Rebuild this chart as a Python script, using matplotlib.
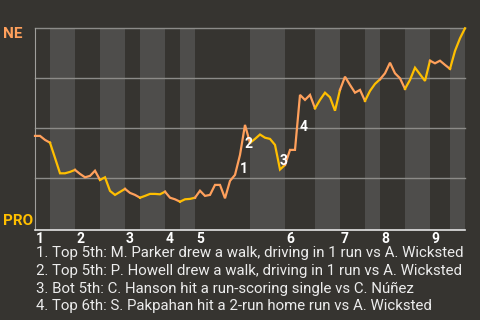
import matplotlib
matplotlib.use("Agg")
import matplotlib.pyplot as plt
from matplotlib.transforms import blended_transform_factory

plt.rcParams['font.family'] = ['Roboto', 'DejaVu Sans']

# ----------------------------------
# data: NE win probability (%) after each plate appearance
# ----------------------------------
win_prob = [
    46.2, 46.2, 44.2, 42.8, 35.2, 27.5, 27.5, 28.2, 29.2, 27.2,
    25.5, 26.2, 28.8, 24.2, 25.5, 18.7, 16.7, 18.2, 19.7, 17.7,
    16.7, 15.3, 16.2, 17.2, 17.2, 17.0, 18.3, 15.3, 14.5, 13.3,
    14.5, 14.7, 15.3, 18.8, 16.2, 16.7, 21.7, 21.7, 15.0, 23.7,
    26.7, 36.7, 51.7, 42.7, 44.7, 46.9, 45.3, 44.7, 41.7, 29.4,
    31.7, 39.2, 39.2, 66.7, 64.2, 66.7, 60.0, 64.2, 67.8, 65.5,
    58.8, 69.2, 75.8, 71.7, 67.8, 69.2, 63.7, 68.7, 72.2, 74.5,
    77.5, 82.8, 77.5, 75.0, 69.7, 74.2, 80.3, 77.0, 73.7, 83.8,
    82.5, 83.8, 81.7, 79.7, 88.7, 95.0, 100.0,
]

# index where each half inning starts (top 1, bot 1, top 2, ...), plus end
half_starts = [0, 3, 8, 13, 18, 21, 26, 29, 32, 43, 50, 56, 61, 66, 69, 74, 79, 83, 86]
innings = ["1", "2", "3", "4", "5", "6", "7", "8", "9"]

# key plays: index of the point after the play
key_plays = [41, 42, 49, 53]
key_texts = [
    "1. Top 5th: M. Parker drew a walk, driving in 1 run vs A. Wicksted",
    "2. Top 5th: P. Howell drew a walk, driving in 1 run vs A. Wicksted",
    "3. Bot 5th: C. Hanson hit a run-scoring single vs C. Núñez",
    "4. Top 6th: S. Pakpahan hit a 2-run home run vs A. Wicksted",
]

away_team = "NE"
home_team = "PRO"

# ----------------------------------
# styling
# ----------------------------------
bg = "#363430"
band = "#4e4d4b"
away_col = "#ffa05c"
home_col = "#ffbf00"
grid_col = "#8c8b88"
text_col = "#ececec"

fig = plt.figure(figsize=(4.8, 3.2), dpi=100, facecolor=bg)
ax = fig.add_axes([35 / 480, (320 - 230) / 320, 430 / 480, 201.7 / 320])
ax.set_facecolor(bg)

n = len(win_prob) - 1
ax.set_xlim(0, n)
ax.set_ylim(-0.85, 100)

# bottom-half shading
for i in range(1, len(half_starts) - 1, 2):
    ax.axvspan(half_starts[i], half_starts[i + 1], color=band, lw=0, zorder=0)

for g in [25, 50, 75, 100]:
    ax.axhline(g, color=grid_col, lw=1, zorder=1, clip_on=False)

# line, coloured by team at bat
xs = list(range(len(win_prob)))
for i in range(len(half_starts) - 1):
    a, b = half_starts[i], half_starts[i + 1]
    col = away_col if i % 2 == 0 else home_col
    ax.plot(xs[a:b + 1], win_prob[a:b + 1], color=col, lw=1.6,
            solid_joinstyle="miter", zorder=3, clip_on=False)

# key play numbers
for k, idx in enumerate(key_plays):
    mx = idx - 0.5
    my = (win_prob[idx - 1] + win_prob[idx]) / 2
    ax.annotate(str(k + 1), xy=(mx, my), xytext=(4.3, -3),
                textcoords="offset points", ha="center", va="center",
                color="white", fontsize=10, fontweight="bold", zorder=4)

# axes
for s in ["top", "right"]:
    ax.spines[s].set_visible(False)
ax.spines["left"].set_color("#a09f9c")
ax.spines["bottom"].set_color("#e4e4e4")
ax.spines["bottom"].set_linewidth(1.2)
ax.set_xticks([])
ax.set_yticks([])

# inning numbers
trans = blended_transform_factory(ax.transData, ax.transAxes)
for j, lab in enumerate(innings):
    ax.annotate(lab, xy=(half_starts[2 * j], 0), xycoords=trans,
                xytext=(0.8, -1.5), textcoords="offset points",
                ha="left", va="top", color="white", fontsize=10,
                fontweight="bold", annotation_clip=False)

# team labels
fig.text(3 / 480, 1 - 27.5 / 320, away_team, color=away_col, fontsize=11,
         fontweight="bold", ha="left", va="top")
fig.text(3 / 480, 1 - 225 / 320, home_team, color=home_col, fontsize=11,
         fontweight="bold", ha="left", va="baseline")

# key play descriptions
for k, t in enumerate(key_texts):
    fig.text(36 / 480, 1 - (256.7 + 17.9 * k) / 320, t, color=text_col,
             fontsize=10.8, ha="left", va="baseline")

fig.savefig("out.png", dpi=100, facecolor=bg)
